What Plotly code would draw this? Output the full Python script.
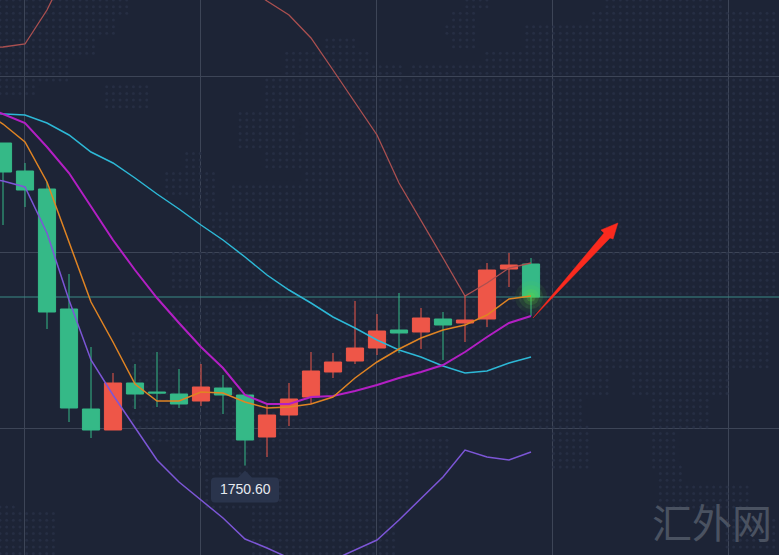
"""Gold candlestick chart with moving averages and Bollinger bands."""
import plotly.graph_objects as go

# candle data
candle_idx = list(range(25))
opens = [1831.25, 1824.25, 1819.75, 1789.75, 1764.75, 1759.5, 1771.25, 1769, 1768.5, 1766.75, 1770, 1768.25, 1757.75,
         1763.25, 1767.75, 1774, 1776.75, 1780, 1784.5, 1784, 1787.25, 1786.25, 1787.25, 1799.75, 1801]
closes = [1824, 1819.5, 1789, 1765, 1759.5, 1771.25, 1768.5, 1768.75, 1766, 1770.25, 1768.25, 1757, 1763.25,
          1767.25, 1774.25, 1776.5, 1780, 1784.25, 1783.75, 1787.5, 1785.75, 1787, 1799.5, 1800.75, 1792.75]
highs = [1831.25, 1826.25, 1821.5, 1798.5, 1780.25, 1773.75, 1776, 1779, 1774.75, 1776, 1773.25, 1768.25, 1766,
         1771.25, 1779, 1778.75, 1791.75, 1788.5, 1793.75, 1790, 1789, 1793.25, 1801.25, 1803.75, 1802.5]
lows = [1810.75, 1815.25, 1784.75, 1761.5, 1757.5, 1759.5, 1764.75, 1765.25, 1765, 1765.5, 1763.5, 1750.6, 1752.75,
        1760.5, 1766, 1772.5, 1776, 1778.25, 1778.75, 1779.75, 1777, 1781.5, 1785.25, 1795.25, 1788]

# indicator lines, these start one bar before the left edge
line_idx = list(range(-1, 25))
ma_orange = [1839.5, 1836, 1831.5, 1821.5, 1806.5, 1791.5, 1781.5, 1771, 1766.75, 1766.75, 1769, 1768.75, 1766.5, 1765,
             1765.25, 1766, 1767.75, 1772.5, 1776.5, 1779.75, 1782.5, 1784.5, 1785.75, 1788.25, 1792.25, 1793]
ma_magenta = [1840.5, 1838.5, 1836.25, 1830.25, 1823.75, 1815.5, 1807, 1799.5, 1792.5, 1786.25, 1780.25, 1775, 1768.25,
              1766, 1766, 1767.75, 1768, 1769.25, 1770.75, 1772.5, 1774, 1775.75, 1779, 1782.75, 1786.25, 1788]
ma_cyan = [1838.75, 1838.5, 1838.25, 1836.25, 1833.25, 1829, 1826.25, 1822.5, 1818.5, 1814.75, 1810.75, 1807, 1802.75,
           1798.25, 1794.5, 1791.25, 1787.75, 1785, 1782, 1779.5, 1777.75, 1775.5, 1773.75, 1774.25, 1776.25, 1777.75]
band_lower = [1822.75, 1821.75, 1820.25, 1808.75, 1792, 1777, 1768.25, 1760, 1752, 1746.5, 1742, 1737.5, 1732.25, 1730,
              1727.5, 1726, 1727, 1729.5, 1732, 1737, 1742.25, 1747.75, 1754.5, 1752.75, 1752, 1754]
band_upper = [1855, 1855.25, 1856, 1864.5, 1875.75, None, None, None, None, None, None, None, 1870.5, 1866.75,
              1863.25, 1857.5, 1849.5, 1841.25, 1833.25, 1821.25, 1812, 1802.5, 1793, 1796.25, 1800, 1801.25]

last_price = 1792.75
low_label = "1750.60"
low_idx = 11
low_price = 1750.6

# hand drawn arrow
arrow_x = [24.09, 27.32, 27.18, 27.95, 27.73, 27.59, 24.09]
arrow_y = [1787.5, 1808.75, 1809.5, 1811.25, 1807.25, 1807.5, 1787.5]

# world map dots in the background, as pixel boxes (x0, y0, x1, y1)
map_boxes = [
    (0, 0, 130, 20), (0, 20, 115, 40), (0, 40, 100, 60), (0, 60, 70, 85), (0, 85, 40, 100), (107, 92, 150, 108),
    (473, 0, 493, 13), (460, 17, 477, 47), (450, 30, 470, 40), (613, 0, 727, 20), (600, 20, 779, 30),
    (583, 30, 779, 100), (527, 27, 550, 67), (553, 33, 583, 100), (490, 57, 550, 100), (420, 70, 490, 100),
    (403, 90, 420, 100), (377, 67, 403, 90), (293, 57, 373, 100), (280, 83, 293, 100), (327, 43, 357, 57),
    (270, 85, 307, 117), (313, 100, 373, 133), (243, 118, 300, 147), (313, 133, 380, 150), (273, 148, 310, 173),
    (313, 160, 380, 193), (190, 155, 203, 180), (173, 180, 187, 197), (200, 180, 220, 210), (237, 193, 380, 250),
    (217, 220, 237, 250), (213, 253, 380, 300), (177, 260, 213, 293), (380, 100, 779, 300),
    (177, 313, 280, 340), (140, 340, 280, 430), (280, 300, 550, 430), (540, 300, 770, 370), (540, 370, 610, 400),
    (640, 370, 730, 400), (552, 400, 585, 430), (660, 400, 710, 430), (555, 430, 590, 470), (660, 430, 680, 470),
    (663, 470, 687, 500), (713, 487, 753, 500), (663, 490, 753, 513), (730, 523, 779, 553),
    (154, 430, 420, 445), (175, 445, 447, 470), (210, 470, 410, 507), (257, 507, 395, 555),
    (0, 508, 20, 555), (20, 520, 55, 555),
]

BG = "#1d2436"
GRID = "#3d4557"
GREEN = "#35b987"
RED = "#ee5648"
DOT_STEP = 6.67
X_RANGE = [-3 / 22, 776 / 22]
Y_RANGE = [1728.25, 1867]


def to_idx(px):
    return (px - 3) / 22


def to_price(py):
    return 1760 + (428 - py) / 4


dots = set()
for x0, y0, x1, y1 in map_boxes:
    for col in range(int(x0 / DOT_STEP), int(x1 / DOT_STEP) + 1):
        for row in range(int(y0 / DOT_STEP), int(y1 / DOT_STEP) + 1):
            dots.add((col, row))
dots = sorted(dots)

fig = go.Figure()

# dots sit on the base axes so that the candles on the overlay axes cover them
fig.add_trace(go.Scatter(x=[to_idx(c * DOT_STEP) for c, r in dots], y=[to_price(r * DOT_STEP) for c, r in dots],
                         mode="markers", marker=dict(color="#262e43", size=3, line=dict(width=0)),
                         hoverinfo="skip"))

# current price line
fig.add_trace(go.Scatter(x=X_RANGE, y=[last_price, last_price], mode="lines",
                         line=dict(color="#3a8a86", width=1), hoverinfo="skip"))

fig.add_trace(go.Candlestick(
    x=candle_idx, open=opens, high=highs, low=lows, close=closes, xaxis="x2", yaxis="y2",
    increasing=dict(line=dict(color=RED, width=1), fillcolor=RED),
    decreasing=dict(line=dict(color=GREEN, width=1), fillcolor=GREEN),
    whiskerwidth=0, hoverinfo="skip",
))

# glow on the last candle
for size, alpha in [(32, 0.07), (24, 0.10), (16, 0.16), (9, 0.22)]:
    fig.add_trace(go.Scatter(x=[candle_idx[-1]], y=[last_price], mode="markers", xaxis="x2", yaxis="y2",
                             marker=dict(color="#62e03c", size=size, opacity=alpha, line=dict(width=0)),
                             hoverinfo="skip"))

for values, color, width in [(band_upper, "#ab5050", 1.3), (band_lower, "#7c56d6", 1.5), (ma_cyan, "#2db8d6", 1.5),
                             (ma_magenta, "#b31fc4", 2), (ma_orange, "#e08423", 1.5)]:
    fig.add_trace(go.Scatter(x=line_idx, y=values, mode="lines", line=dict(color=color, width=width),
                             xaxis="x2", yaxis="y2", connectgaps=False, hoverinfo="skip"))

fig.add_trace(go.Scatter(x=arrow_x, y=arrow_y, mode="lines", fill="toself", fillcolor="#fb2a1e", xaxis="x2", yaxis="y2",
                         line=dict(color="#fb2a1e", width=0.5), hoverinfo="skip"))

# tooltip under the low, with its little pointer
fig.add_shape(type="path", xref="x2", yref="y2", xsizemode="pixel", ysizemode="pixel",
              xanchor=low_idx, yanchor=low_price,
              path="M 0 -5 L 7 -12 L 30 -12 Q 34 -12 34 -16 L 34 -33 Q 34 -37 30 -37 L -30 -37 Q -34 -37 -34 -33 "
                   "L -34 -16 Q -34 -12 -30 -12 L -7 -12 Z",
              fillcolor="#2a344c", line=dict(width=0), layer="above")
fig.add_annotation(x=low_idx, y=low_price, xref="x2", yref="y2", text=low_label, showarrow=False, yshift=-23,
                   font=dict(family="Liberation Sans, Arial, sans-serif", size=14, color="#e6e9ef"))

# watermark
fig.add_annotation(xref="paper", yref="paper", x=0.993, y=0.0, xanchor="right", yanchor="bottom", yshift=3,
                   text="汇外网", showarrow=False,
                   font=dict(family="Noto Sans CJK SC", size=40, color="#4a5261"))

fig.update_layout(
    width=779, height=555, margin=dict(l=0, r=0, t=0, b=0), showlegend=False,
    plot_bgcolor=BG, paper_bgcolor=BG, boxgap=0.22, boxgroupgap=0,
    xaxis=dict(range=X_RANGE, tick0=21 / 22, dtick=8, showgrid=True, gridcolor=GRID, gridwidth=1,
               showticklabels=False, zeroline=False, ticks=""),
    yaxis=dict(range=Y_RANGE, tick0=1760, dtick=44, showgrid=True, gridcolor=GRID, gridwidth=1,
               showticklabels=False, zeroline=False, ticks=""),
    xaxis2=dict(range=X_RANGE, overlaying="x", visible=False, rangeslider=dict(visible=False)),
    yaxis2=dict(range=Y_RANGE, overlaying="y", visible=False),
)

fig.write_html("out.html", config=dict(displayModeBar=False),
               post_script="document.body.style.margin='0';document.body.style.overflow='hidden';")
